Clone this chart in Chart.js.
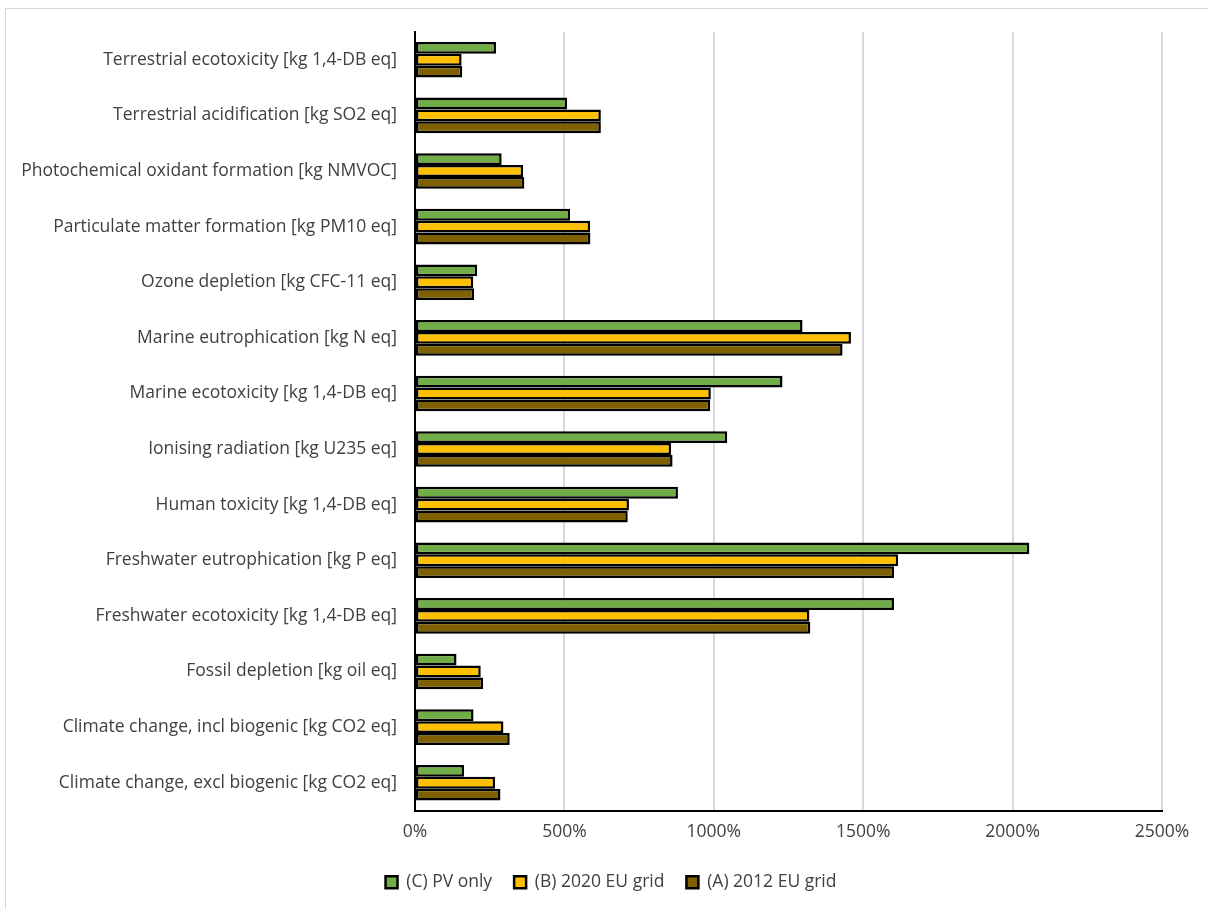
<!DOCTYPE html>
<html>
<head>
<meta charset="utf-8">
<script src="https://cdn.jsdelivr.net/npm/chart.js@4"></script>
<style>
  html, body { margin: 0; padding: 0; background: #fff; }
  #wrap { position: relative; width: 1208px; height: 909px; overflow: hidden; }
  #frame { position: absolute; left: 5px; top: 8px; width: 1220px; height: 920px;
           border: 1px solid #d9d9d9; box-sizing: border-box; }
  canvas { position: absolute; left: 0; top: 0; }
</style>
</head>
<body>
<div id="wrap">
  <div id="frame"></div>
  <canvas id="chart" width="1208" height="909"></canvas>
</div>
<script>
// categories, top to bottom as drawn
const categories = [
  'Terrestrial ecotoxicity [kg 1,4-DB eq]',
  'Terrestrial acidification [kg SO2 eq]',
  'Photochemical oxidant formation [kg NMVOC]',
  'Particulate matter formation [kg PM10 eq]',
  'Ozone depletion [kg CFC-11 eq]',
  'Marine eutrophication [kg N eq]',
  'Marine ecotoxicity [kg 1,4-DB eq]',
  'Ionising radiation [kg U235 eq]',
  'Human toxicity [kg 1,4-DB eq]',
  'Freshwater eutrophication [kg P eq]',
  'Freshwater ecotoxicity [kg 1,4-DB eq]',
  'Fossil depletion [kg oil eq]',
  'Climate change, incl biogenic [kg CO2 eq]',
  'Climate change, excl biogenic [kg CO2 eq]'
];

// values in percent
const pvOnly   = [271, 509, 290, 519, 208, 1297, 1230, 1045, 880, 2056, 1603, 139, 196, 164];
const grid2020 = [156, 622, 362, 586, 195, 1459, 990, 857, 716, 1617, 1320, 220, 296, 268];
const grid2012 = [158, 622, 366, 587, 198, 1431, 988, 862, 712, 1603, 1323, 228, 317, 286];

const xTicks = [0, 500, 1000, 1500, 2000, 2500];

const FONT = 'Open Sans';
const TEXT = '#404040';

function ds(label, data, color) {
  return {
    label, data,
    backgroundColor: color,
    borderColor: '#000',
    borderWidth: 2.5,
    borderSkipped: false,
    categoryPercentage: 0.64,
    barPercentage: 1.0
  };
}

// legend is centred on the whole frame, not on the canvas minus right padding
const legendShift = {
  id: 'legendShift',
  afterLayout(chart) {
    const lg = chart.legend;
    if (!lg) return;
    lg.left += 30;
    lg.right += 30;
  }
};

new Chart(document.getElementById('chart'), {
  type: 'bar',
  data: {
    labels: categories,
    datasets: [
      ds('(C) PV only', pvOnly, '#70AD47'),
      ds('(B) 2020 EU grid', grid2020, '#FFC000'),
      ds('(A) 2012 EU grid', grid2012, '#7F6000')
    ]
  },
  plugins: [legendShift],
  options: {
    indexAxis: 'y',
    responsive: false,
    animation: false,
    layout: { padding: { top: 32, right: 46, bottom: 8, left: 0 } },
    scales: {
      x: {
        min: 0,
        max: 2500,
        afterBuildTicks: (s) => { s.ticks = xTicks.map(v => ({ value: v })); },
        afterFit: (s) => { s.height = 41; },
        ticks: {
          color: TEXT,
          padding: 11,
          font: { family: FONT, size: 17.5 },
          callback: (v) => v + '%'
        },
        grid: { color: '#d9d9d9', lineWidth: 2, drawTicks: false },
        border: { display: true, color: '#000', width: 2 }
      },
      y: {
        afterFit: (s) => { s.width = 415; },
        ticks: {
          color: TEXT,
          padding: 18,
          font: { family: FONT, size: 17.5 }
        },
        grid: { display: false, drawTicks: false },
        border: { display: true, color: '#000', width: 2 }
      }
    },
    plugins: {
      legend: {
        position: 'bottom',
        labels: {
          color: TEXT,
          boxWidth: 12,
          boxHeight: 12,
          padding: 22,
          font: { family: FONT, size: 17.5 }
        }
      },
      tooltip: { enabled: false }
    }
  }
});
</script>
</body>
</html>
